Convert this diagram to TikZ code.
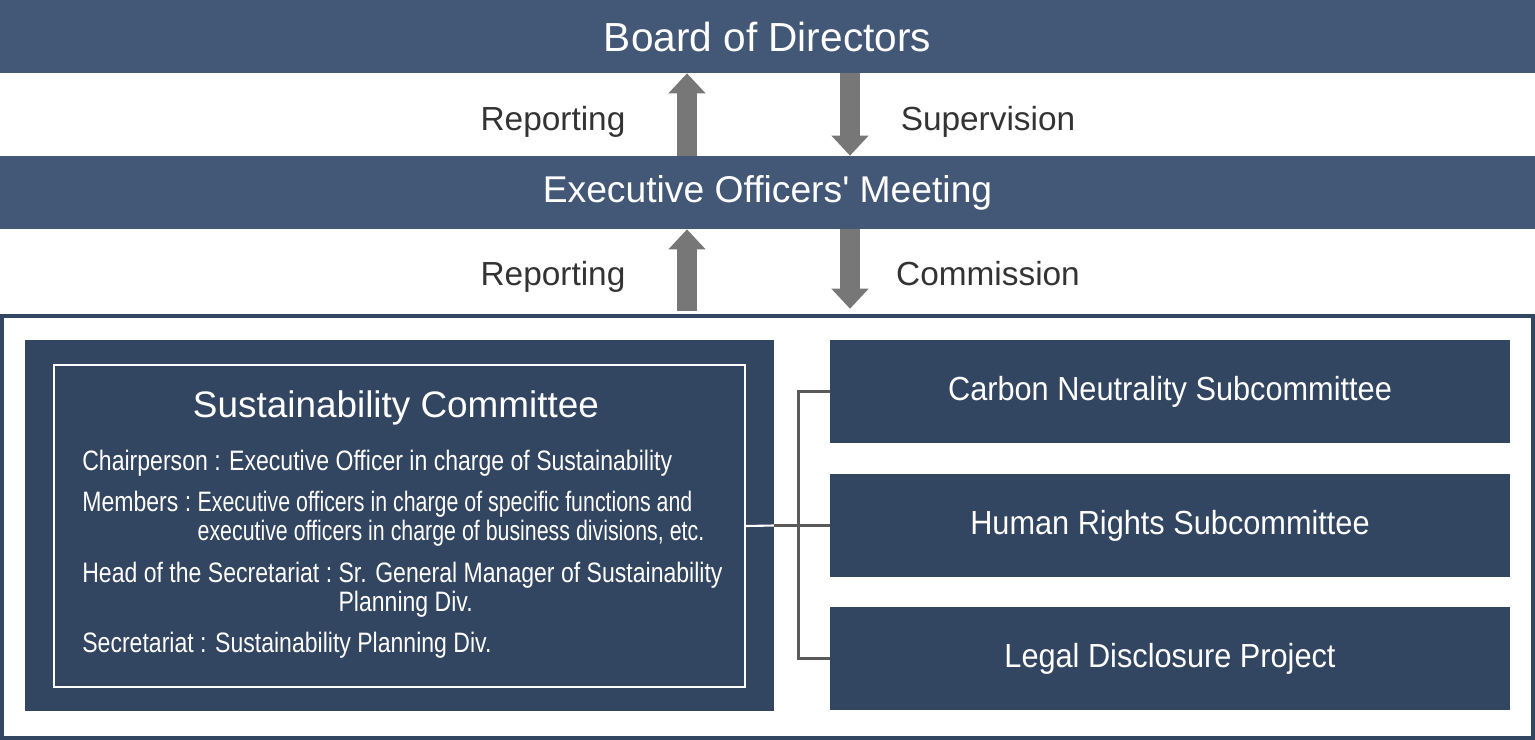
\documentclass[tikz,border=0pt]{standalone}
\usepackage{fontspec}
\setmainfont{Liberation Sans}
\newfontfamily\condfont[FakeStretch=0.82]{Liberation Sans}
\newfontfamily\narrowfont[FakeStretch=0.76]{Liberation Sans}
\newfontfamily\subfont[FakeStretch=0.92]{Liberation Sans}
\usetikzlibrary{arrows.meta,positioning}
\definecolor{barblue}{HTML}{435876}
\definecolor{boxblue}{HTML}{324561}
\definecolor{arrowgray}{HTML}{777777}
\definecolor{linkgray}{HTML}{5A5A5A}
\definecolor{labelgray}{HTML}{333333}
\tikzset{
	bar/.style={fill=barblue, text=white, minimum width=30.7cm, minimum height=1.46cm, inner sep=0pt},
	subbox/.style={fill=boxblue, text=white, minimum width=13.6cm, minimum height=2.06cm, inner sep=0pt, font=\subfont\fontsize{19}{22}\selectfont},
	flow/.style={draw=arrowgray, line width=11.4pt, -{Triangle[width=20.5pt,length=11.4pt]}},
	lbl/.style={text=labelgray, anchor=base, inner sep=0pt, font=\fontsize{19}{22}\selectfont},
	memo/.style={text=white, anchor=base west, inner sep=0pt, font=\condfont\fontsize{16}{17}\selectfont},
	link/.style={draw=linkgray, line width=1.7pt},
}

\begin{document}
\begin{tikzpicture}[x=0.02cm, y=-0.02cm]
		%%%%% START %%%%%
		\useasboundingbox (0, 0) rectangle (1535, 740);
		
		\node[bar, font=\fontsize{23.1}{26}\selectfont] (board) at (767.5, 36.5) {Board of Directors};
		\node[bar, font=\fontsize{21.2}{26}\selectfont] (exec) at (767.5, 192.5) {Executive Officers\textquotesingle{} Meeting};
		
		\node[draw=boxblue, line width=2.3pt, minimum width=30.62cm, minimum height=8.44cm, inner sep=0pt] (panel) at (767.5, 527) {};
		
		\coordinate (upcol) at (687, 0);
		\coordinate (dncol) at (850, 0);
		\draw[flow] (exec.north -| upcol) -- (board.south -| upcol);
		\draw[flow] (board.south -| dncol) -- (exec.north -| dncol);
		\draw[flow, shorten <=2pt] (panel.north -| upcol) -- (exec.south -| upcol);
		\draw[flow, shorten >=3pt] (exec.south -| dncol) -- (panel.north -| dncol);
		
		\node[lbl] (rep1) at (553, 131) {Reporting};
		\node[lbl] (sup) at (988, 131) {Supervision};
		\node[lbl] (rep2) at (553, 285) {Reporting};
		\node[lbl] (com) at (988, 285) {Commission};
		
		\node[fill=boxblue, minimum width=14.98cm, minimum height=7.42cm, inner sep=0pt] (comm) at (399.5, 525.5) {};
		\node[draw=white, line width=1.2pt, minimum width=13.82cm, minimum height=6.44cm, inner sep=0pt] (frame) at (399.5, 526) {};
		\node[text=white, font=\fontsize{21}{24}\selectfont] (title) at (396, 408) {Sustainability Committee};
		
		\node[memo] (chair) at (82, 470) {Chairperson : Executive Officer in charge of Sustainability};
		\node[memo] (members) at (82, 511) {\begin{tabular}[t]{@{}l@{}l@{}}Members :\ \null & \narrowfont Executive officers in charge of specific functions and\\ & \narrowfont executive officers in charge of business divisions, etc.\end{tabular}};
		\node[memo] (head) at (82, 582) {\begin{tabular}[t]{@{}l@{}l@{}}Head of the Secretariat :\ \null & Sr. General Manager of Sustainability\\ & Planning Div.\end{tabular}};
		\node[memo] (secr) at (82, 652) {Secretariat : Sustainability Planning Div.};
		
		\node[subbox] (carbon) at (1170, 391.5) {Carbon Neutrality Subcommittee};
		\node[subbox] (human) at (1170, 525.5) {Human Rights Subcommittee};
		\node[subbox] (legal) at (1170, 658.5) {Legal Disclosure Project};
		
		\coordinate (bus) at (798, 0);
		\draw[white, line width=1.2pt] (frame.east) -- (comm.east);
		\draw[link] (comm.east) -- (human.west);
		\draw[link] (carbon.west) -- (carbon.west -| bus) -- (legal.west -| bus) -- (legal.west);
		
		%%%%% END %%%%%
	\end{tikzpicture}
\end{document}
